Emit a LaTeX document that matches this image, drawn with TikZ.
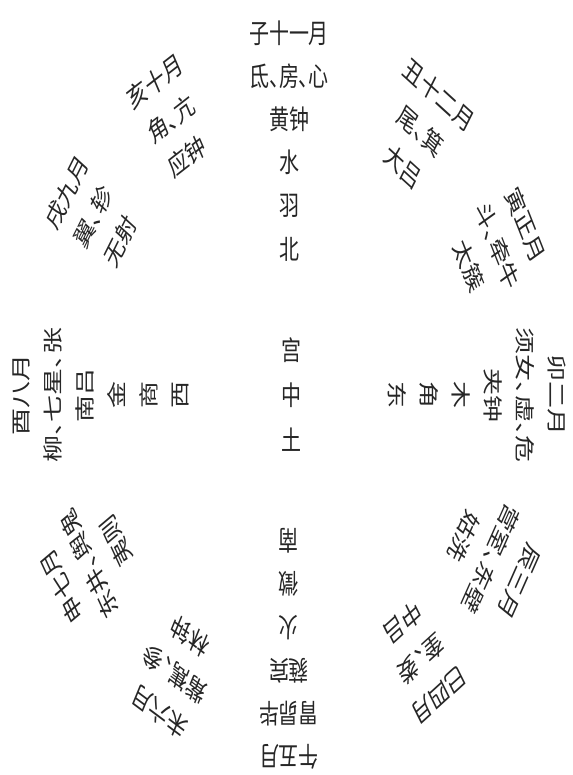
\documentclass[tikz,border=0pt]{standalone}
\usepackage{fontspec}
\newfontfamily\cjk{Noto Sans CJK SC}
\newcommand\dd{\makebox[0.5em][l]{、}}
\tikzset{
  lbl/.style={font=\cjk\fontsize{27pt}{27pt}\selectfont, inner sep=0pt, text=black!85}
}
\begin{document}
\begin{tikzpicture}
\useasboundingbox (0,0) rectangle (572pt,-775pt);
\begin{scope}[shift={(289pt,-395pt)}, xscale=0.74, transform shape]
\foreach \nm/\ang/\lst in {
  zi/0/{子十一月,氐\dd 房\dd 心,黄钟,水,羽,北},
  chou/34/{丑十二月,尾\dd 箕,大吕},
  yin/62/{寅正月,斗\dd 牵牛,太簇},
  mao/90/{卯二月,须女\dd 虚\dd 危,夹钟,木,角,东},
  chen/121/{辰三月,营室\dd 东壁,姑洗},
  si/146/{巳四月,奎\dd 娄,中吕},
  wu/180/{午五月,胃昴毕,蕤宾,火,徵,南},
  wei/209/{未六月,觜嶲\dd 参,林钟},
  shen/238/{申七月,东井\dd 舆鬼,夷则},
  you/270/{酉八月,柳\dd 七星\dd 张,南吕,金,商,西},
  xu/304/{戌九月,翼\dd 轸,无射},
  hai/330/{亥十月,角\dd 亢,应钟}}
{
  \foreach \t [count=\i] in \lst {
    \node[lbl, rotate={-\ang}] (\nm\i) at ({90-\ang}:{362pt-(\i-1)*43.2pt}) {\t};
  }
}
\node[lbl] (gong) at (3pt,45pt) {宫};
\node[lbl] (zhong) at (3pt,0pt) {中};
\node[lbl] (tu) at (3pt,-45pt) {土};
\end{scope}
\end{tikzpicture}
\end{document}
